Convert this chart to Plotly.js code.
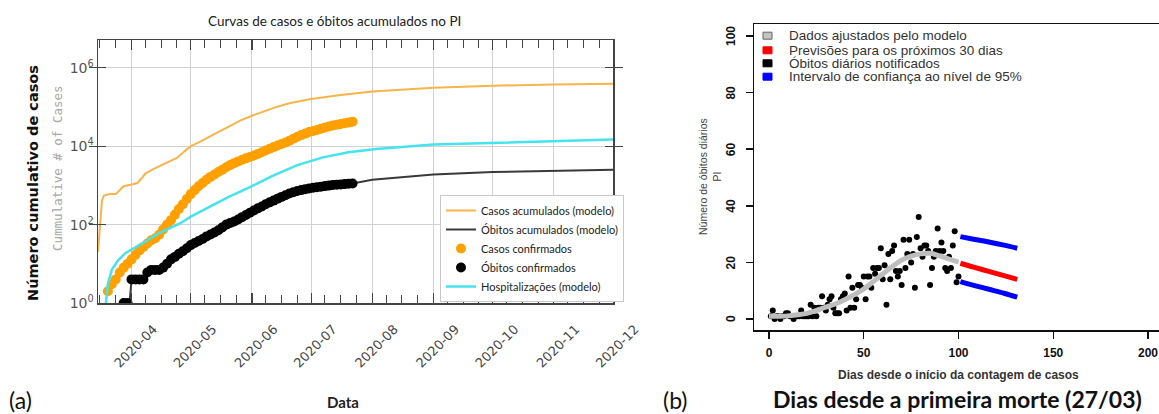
<!DOCTYPE html>
<html>
<head>
<meta charset="utf-8">
<script src="https://cdn.plot.ly/plotly-3.0.1.min.js"></script>
<style>html,body{margin:0;padding:0;background:#fff;}#chart{width:1159px;height:414px;}</style>
</head>
<body>
<div id="chart"></div>
<script>
// ---------- Panel (a) data ----------
const casesModelDates = ['2020-03-15','2020-03-16','2020-03-17','2020-03-18','2020-03-21','2020-03-24','2020-03-26','2020-03-28','2020-04-01','2020-04-04','2020-04-06','2020-04-08','2020-04-12','2020-04-16','2020-04-20','2020-04-24','2020-04-28','2020-05-01','2020-05-05','2020-05-10','2020-05-15','2020-05-21','2020-05-26','2020-06-01','2020-06-07','2020-06-12','2020-06-20','2020-07-01','2020-07-15','2020-08-01','2020-09-01','2020-10-01','2020-11-01','2020-12-01'];
const casesModel = [20,80,400,550,600,600,750,950,1050,1150,1500,2000,2600,3200,4000,5000,7500,10000,12500,17000,23000,33000,45000,60000,78000,95000,125000,160000,200000,250000,310000,350000,375000,395000];

const deathsModelDates = ['2020-03-31','2020-04-01','2020-04-08','2020-04-15','2020-05-01','2020-06-01','2020-07-01','2020-07-22','2020-08-01','2020-09-01','2020-10-01','2020-11-01','2020-12-01'];
const deathsModel = [1,4,5,8,32,210,860,1120,1400,1900,2200,2400,2500];

const hospDates = ['2020-03-19','2020-03-20','2020-03-22','2020-03-25','2020-03-29','2020-04-03','2020-04-08','2020-04-14','2020-04-20','2020-04-26','2020-05-01','2020-05-09','2020-05-20','2020-05-31','2020-06-12','2020-06-24','2020-07-07','2020-07-20','2020-08-03','2020-09-01','2020-10-01','2020-11-01','2020-12-01'];
const hospModel = [1,3,7,12,19,26,37,57,80,110,160,260,500,900,1800,3300,5200,7000,8500,11000,12300,13500,14800];

const casesObsDates = ['2020-03-20','2020-03-22','2020-03-24','2020-03-26','2020-03-28','2020-03-30','2020-04-01','2020-04-03','2020-04-05','2020-04-07','2020-04-09','2020-04-11','2020-04-13','2020-04-15','2020-04-17','2020-04-19','2020-04-21','2020-04-23','2020-04-25','2020-04-27','2020-04-29','2020-05-01','2020-05-03','2020-05-05','2020-05-07','2020-05-09','2020-05-11','2020-05-13','2020-05-15','2020-05-17','2020-05-19','2020-05-21','2020-05-23','2020-05-25','2020-05-27','2020-05-29','2020-05-31','2020-06-02','2020-06-04','2020-06-06','2020-06-08','2020-06-10','2020-06-12','2020-06-14','2020-06-16','2020-06-18','2020-06-20','2020-06-22','2020-06-24','2020-06-26','2020-06-28','2020-06-30','2020-07-02','2020-07-04','2020-07-06','2020-07-08','2020-07-10','2020-07-12','2020-07-14','2020-07-16','2020-07-18','2020-07-20','2020-07-22'];
const casesObs = [2,3,4,6,8,10,13,17,22,27,33,40,45,55,75,100,130,180,250,330,450,600,760,950,1150,1400,1650,1900,2200,2500,2900,3300,3700,4100,4500,4900,5300,5800,6300,7000,7800,8600,9500,10400,11400,12500,13800,15500,17400,19200,21000,23000,24500,26000,28000,30000,32000,34000,35500,37000,38500,40000,42000];

const deathsObsDates = ['2020-03-28','2020-03-30','2020-04-01','2020-04-03','2020-04-05','2020-04-07','2020-04-09','2020-04-11','2020-04-13','2020-04-15','2020-04-17','2020-04-19','2020-04-21','2020-04-23','2020-04-25','2020-04-27','2020-04-29','2020-05-01','2020-05-03','2020-05-05','2020-05-07','2020-05-09','2020-05-11','2020-05-13','2020-05-15','2020-05-17','2020-05-19','2020-05-21','2020-05-23','2020-05-25','2020-05-27','2020-05-29','2020-05-31','2020-06-02','2020-06-04','2020-06-06','2020-06-08','2020-06-10','2020-06-12','2020-06-14','2020-06-16','2020-06-18','2020-06-20','2020-06-22','2020-06-24','2020-06-26','2020-06-28','2020-06-30','2020-07-02','2020-07-04','2020-07-06','2020-07-08','2020-07-10','2020-07-12','2020-07-14','2020-07-16','2020-07-18','2020-07-20','2020-07-22'];
const deathsObs = [1,1,4,4,4,4,6,7,7,7,8,10,13,15,18,21,25,30,34,38,43,50,56,63,72,85,100,110,120,135,155,175,200,230,260,290,330,370,410,460,510,560,620,670,720,760,800,840,870,900,930,960,990,1020,1040,1060,1080,1100,1120];

const monthTicks = ['2020-04-01','2020-05-01','2020-06-01','2020-07-01','2020-08-01','2020-09-01','2020-10-01','2020-11-01','2020-12-01'];
const monthLabels = ['2020-04','2020-05','2020-06','2020-07','2020-08','2020-09','2020-10','2020-11','2020-12'];
const logTicks = [1,100,10000,1000000];
const logLabels = ['10<sup>0</sup>','10<sup>2</sup>','10<sup>4</sup>','10<sup>6</sup>'];

// ---------- Panel (b) data ----------
const obsDays = [1,2,3,4,5,6,7,8,9,10,11,12,13,14,15,16,17,18,19,20,21,22,23,24,25,26,27,28,29,30,31,32,33,34,35,36,37,38,39,40,41,42,43,44,45,46,47,48,49,50,51,52,53,54,55,56,57,58,59,60,61,62,63,64,65,66,67,68,69,70,71,72,73,74,75,76,77,78,79,80,81,82,83,84,85,86,87,88,89,90,91,92,93,94,95,96,97,98,99,100];
const obsDeaths = [1,3,0,1,1,0,1,1,2,2,1,1,0,1,1,1,3,1,1,1,1,5,1,4,1,4,4,8,4,3,5,7,8,4,2,2,2,7,8,9,3,15,4,11,4,7,12,12,11,15,7,15,15,11,18,16,18,18,25,14,19,5,23,14,24,26,17,15,17,12,28,18,23,28,20,23,11,29,36,25,22,26,26,24,12,18,22,24,32,24,27,24,18,17,22,18,26,31,13,15];
const fitDays = [0,5,10,15,20,25,30,35,40,45,50,55,60,65,70,75,80,85,90,95,100];
const fitDeaths = [1,1,1.1,1.5,2,3,4.2,5.3,6.8,8.6,10.6,13.2,15.9,18.5,20.8,22.2,23,23.2,22.3,21.2,20.1];
const fcDays = [101,108,116,124,131];
const fcMean = [19.7,18.3,16.8,15.3,14.0];
const fcUpper = [29.1,28.2,27.2,26.1,25.0];
const fcLower = [13.2,11.9,10.5,9.1,7.7];
const yTicksB = [0,20,40,60,80,100];
const xTicksB = [0,50,100,150,200];

const legendB = ['Dados ajustados pelo modelo','Previsões para os próximos 30 dias','Óbitos diários notificados','Intervalo de confiança ao nível de 95%'];
const legendBColors = ['#c4c4c4','#ff0000','#000000','#0000ff'];

// ---------- helpers (page pixels -> paper) ----------
const W = 1159, H = 414;
const px = v => v / W;
const py = v => 1 - v / H;

// minor ticks for the date axis
const minorTicks = [];
for (let m = 3; m <= 11; m++) {
  [8,16,24].forEach(d => minorTicks.push('2020-' + String(m).padStart(2,'0') + '-' + String(d).padStart(2,'0')));
}

const traces = [
  {x: casesModelDates, y: casesModel, type:'scatter', mode:'lines', name:'Casos acumulados (modelo)',
   line:{color:'#f7b44a', width:2}, xaxis:'x', yaxis:'y', legend:'legend'},
  {x: deathsModelDates, y: deathsModel, type:'scatter', mode:'lines', name:'Óbitos acumulados (modelo)',
   line:{color:'#3a3a3a', width:2}, xaxis:'x', yaxis:'y', legend:'legend'},
  {x: casesObsDates, y: casesObs, type:'scatter', mode:'markers', name:'Casos confirmados',
   marker:{color:'#ffa000', size:10}, xaxis:'x', yaxis:'y', legend:'legend'},
  {x: deathsObsDates, y: deathsObs, type:'scatter', mode:'markers', name:'Óbitos confirmados',
   marker:{color:'#000000', size:10}, xaxis:'x', yaxis:'y', legend:'legend'},
  {x: hospDates, y: hospModel, type:'scatter', mode:'lines', name:'Hospitalizações (modelo)',
   line:{color:'#44e3ee', width:2.5}, xaxis:'x', yaxis:'y', legend:'legend'},
  // carrier for the top tick axis of panel (a) (no marks)
  {x: [], y: [], type:'scatter', mode:'lines', showlegend:false, hoverinfo:'skip', xaxis:'x3', yaxis:'y'},

  {x: obsDays, y: obsDeaths, type:'scatter', mode:'markers', showlegend:false,
   marker:{color:'#000', size:6}, xaxis:'x2', yaxis:'y2'},
  {x: fitDays, y: fitDeaths, type:'scatter', mode:'lines', showlegend:false, line:{color:'#bebebe', width:5, shape:'spline'}, xaxis:'x2', yaxis:'y2'},
  {x: fcDays, y: fcMean, type:'scatter', mode:'lines', showlegend:false, line:{color:'#ff0000', width:5, shape:'spline'}, xaxis:'x2', yaxis:'y2'},
  {x: fcDays, y: fcUpper, type:'scatter', mode:'lines', showlegend:false, line:{color:'#0000ff', width:5, shape:'spline'}, xaxis:'x2', yaxis:'y2'},
  {x: fcDays, y: fcLower, type:'scatter', mode:'lines', showlegend:false, line:{color:'#0000ff', width:5, shape:'spline'}, xaxis:'x2', yaxis:'y2'}
];

function note(text, x, y, font, extra) {
  return Object.assign({text:text, x:px(x), y:py(y), xref:'paper', yref:'paper', showarrow:false,
    xanchor:'center', yanchor:'middle', font:font}, extra || {});
}

const annotations = [
  note('Curvas de casos e óbitos acumulados no PI', 334, 21, {family:'Lato', size:13.5, color:'#222'}),
  note('<b>Número cumulativo de casos</b>', 33, 183, {family:'DejaVu Sans', size:14.5, color:'#111'}, {textangle:-90}),
  note('Cummulative # of Cases', 57, 168, {family:'DejaVu Sans Mono', size:12.5, color:'#a8a8a8'}, {textangle:-90}),
  note('<b>Data</b>', 343, 402, {family:'Lato', size:15, color:'#222'}),
  note('(a)', 20, 400, {family:'Lato', size:23, color:'#111'}),
  note('(b)', 675, 400, {family:'Lato', size:23, color:'#111'}),
  note('Número de óbitos diários<br>PI', 710, 177, {family:'Liberation Sans', size:10.5, color:'#444'}, {textangle:-90}),
  note('<b>Dias desde o início da contagem de casos</b>', 958, 375, {family:'Liberation Sans', size:12, color:'#333'}),
  note('<b>Dias desde a primeira morte (27/03)</b>', 957, 399, {family:'Lato', size:23, color:'#111'})
];
// rotated tick labels of the left axis in panel (b), placed at the axis values
yTicksB.forEach(v => {
  annotations.push({text:'<b>' + v + '</b>', x:px(731), y:v, xref:'paper', yref:'y2', showarrow:false,
    xanchor:'center', yanchor:'middle', textangle:-90, font:{family:'Liberation Sans', size:12, color:'#111'}});
});
const shapes = [];
const legRows = [35.7, 50.3, 63.3, 76.7];
legendB.forEach((t, i) => {
  annotations.push({text:t, x:px(787), y:py(legRows[i]), xref:'paper', yref:'paper', showarrow:false, xanchor:'left', yanchor:'middle',
    font:{family:'Liberation Sans', size:13.5, color:'#333'}});
  shapes.push({type:'rect', xref:'paper', yref:'paper', x0:px(763), x1:px(772), y0:py(legRows[i]+3.5), y1:py(legRows[i]-3.5),
    fillcolor:legendBColors[i], line:{color: i===0 ? '#666' : legendBColors[i], width:1}});
});

const layout = {
  width: W, height: H,
  margin:{l:0, r:0, t:0, b:0},
  paper_bgcolor:'#fff', plot_bgcolor:'#fff',
  showlegend:true,
  xaxis:{type:'date', domain:[px(98), px(613)], range:['2020-03-15','2020-12-01'], anchor:'y',
    showline:true, mirror:true, linecolor:'#444', linewidth:1.5,
    ticks:'inside', ticklen:10, tickwidth:1.2, tickcolor:'#444',
    tickmode:'array', tickvals: monthTicks, ticktext: monthLabels, tickangle:-45,
    ticklabelshift:22, ticklabelstandoff:12,
    tickfont:{family:'DejaVu Sans', size:13, color:'#444'},
    showgrid:true, gridcolor:'#d2d2d2', gridwidth:1, zeroline:false,
    minor:{tickmode:'array', tickvals:minorTicks, ticks:'inside', ticklen:8, tickcolor:'#444', tickwidth:1, showgrid:false}},
  xaxis3:{type:'date', overlaying:'x', side:'top', anchor:'y', range:['2020-03-15','2020-12-01'],
    showline:false, showgrid:false, zeroline:false, showticklabels:false,
    ticks:'inside', ticklen:10, tickwidth:1.2, tickcolor:'#444',
    tickmode:'array', tickvals: monthTicks,
    minor:{tickmode:'array', tickvals:minorTicks, ticks:'inside', ticklen:8, tickcolor:'#444', tickwidth:1, showgrid:false}},
  yaxis:{type:'log', domain:[py(303), py(40)], range:[0, 6.71], anchor:'x',
    showline:true, mirror:'allticks', linecolor:'#444', linewidth:1.5,
    ticks:'inside', ticklen:8, tickcolor:'#444',
    tickmode:'array', tickvals: logTicks, ticktext: logLabels,
    tickfont:{family:'DejaVu Sans', size:14, color:'#555'},
    showgrid:true, gridcolor:'#d2d2d2', zeroline:false},
  xaxis2:{domain:[px(754), 1], range:[-7.9, 205.8], anchor:'y2',
    showline:true, mirror:true, linecolor:'#111', linewidth:1.5,
    ticks:'outside', ticklen:7, tickwidth:1.5, tickcolor:'#111',
    tickmode:'array', tickvals: xTicksB, ticklabelstandoff:4,
    tickfont:{family:'Liberation Sans', size:12, color:'#111', weight:'bold'},
    showgrid:false, zeroline:false},
  yaxis2:{domain:[py(330), py(24)], range:[-3.89, 104.24], anchor:'x2',
    showline:true, linecolor:'#111', linewidth:1.5,
    ticks:'outside', ticklen:7, tickwidth:1.5, tickcolor:'#111',
    tickmode:'array', tickvals: yTicksB, showticklabels:false,
    showgrid:false, zeroline:false},
  legend:{x:px(440), y:py(195), xanchor:'left', yanchor:'top', bgcolor:'#fff', bordercolor:'#c8c8c8', borderwidth:1,
    font:{family:'Lato', size:11, color:'#222'}, itemwidth:30, tracegroupgap:0},
  annotations: annotations,
  shapes: shapes
};

Plotly.newPlot('chart', traces, layout, {displayModeBar:false, staticPlot:true});
</script>
</body>
</html>
